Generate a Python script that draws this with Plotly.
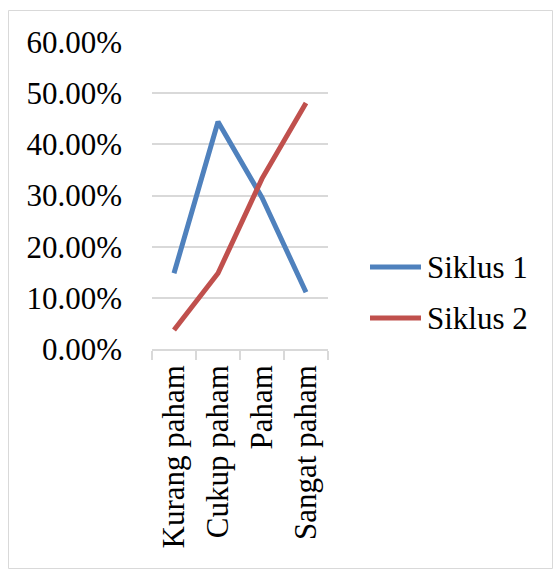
import plotly.graph_objects as go

categories = ["Kurang paham", "Cukup paham", "Paham", "Sangat paham"]
siklus1 = [0.148, 0.444, 0.296, 0.111]
siklus2 = [0.037, 0.148, 0.333, 0.481]
series_names = ["Siklus 1", "Siklus 2"]
colors = ["#4f81bd", "#c0504d"]

W, H = 553, 569
L, R, T, B = 152, 328, 42, 349
pw, ph = R - L, B - T

def px_x(x):
    return (x - L) / pw

def px_y(y):
    return (B - y) / ph

fig = go.Figure()
for i, (name, vals) in enumerate(zip(series_names, [siklus1, siklus2])):
    fig.add_trace(go.Scatter(
        x=categories, y=vals, mode="lines", name=name,
        line=dict(color=colors[i], width=5),
        showlegend=False,
    ))

font = "Liberation Serif, Times New Roman, serif"
FS = 31

shapes = [dict(type="rect", xref="paper", yref="paper",
               x0=px_x(8.5), x1=px_x(552.5), y0=px_y(568.5), y1=px_y(10.5),
               line=dict(color="#d9d9d9", width=1), fillcolor="rgba(0,0,0,0)",
               layer="below")]
annotations = []
legend_y = [267, 318]
for i, name in enumerate(series_names):
    shapes.append(dict(type="line", xref="paper", yref="paper",
                       x0=px_x(370), x1=px_x(421), y0=px_y(legend_y[i]), y1=px_y(legend_y[i]),
                       line=dict(color=colors[i], width=5)))
    annotations.append(dict(xref="paper", yref="paper", x=px_x(425), y=px_y(legend_y[i]),
                            text=name, showarrow=False, xanchor="left", yanchor="middle",
                            font=dict(family=font, size=FS, color="black")))

fig.update_layout(
    width=W, height=H,
    margin=dict(l=L, r=W - R, t=T, b=H - B),
    paper_bgcolor="white", plot_bgcolor="white",
    font=dict(family=font, size=FS, color="black"),
    showlegend=False,
    xaxis=dict(
        type="category", range=[-0.5, 3.5], tickangle=-90, showline=True, linecolor="#d9d9d9",
        linewidth=1.5, ticks="outside", ticklen=9, tickcolor="#d9d9d9",
        tickwidth=1.5, tickson="boundaries", showgrid=False, zeroline=False,
        tickfont=dict(size=FS, family=font), ticklabelstandoff=2,
    ),
    yaxis=dict(
        range=[0, 0.6], dtick=0.1, tickformat=".2%", showgrid=True,
        gridcolor="#d9d9d9", gridwidth=1.5, zeroline=False, showline=False,
        ticks="", ticklabelstandoff=29,
        tickfont=dict(size=FS, family=font),
    ),
    shapes=shapes,
    annotations=annotations,
)

fig.write_html("out.html")
